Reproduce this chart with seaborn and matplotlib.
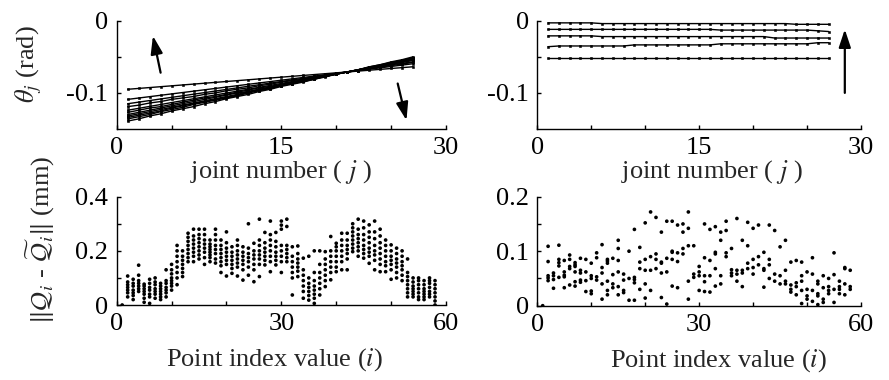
import matplotlib
matplotlib.use("Agg")
import matplotlib.pyplot as plt
import pandas as pd
import seaborn as sns

# ---------------- data ----------------
joints = list(range(1, 28))

# joint angles before calibration (rad), one list per iteration
theta_a1 = [-0.0950, -0.0938, -0.0926, -0.0914, -0.0902, -0.0890, -0.0878, -0.0866, -0.0854, -0.0842, -0.0830, -0.0818, -0.0806, -0.0794, -0.0782, -0.0770, -0.0758, -0.0746, -0.0734, -0.0722, -0.0710, -0.0698, -0.0686, -0.0674, -0.0662, -0.0650, -0.0638]
theta_a2 = [-0.1090, -0.1071, -0.1052, -0.1033, -0.1014, -0.0995, -0.0976, -0.0957, -0.0938, -0.0919, -0.0900, -0.0881, -0.0862, -0.0843, -0.0824, -0.0805, -0.0786, -0.0767, -0.0748, -0.0729, -0.0710, -0.0691, -0.0672, -0.0653, -0.0634, -0.0615, -0.0596]
theta_a3 = [-0.1150, -0.1128, -0.1106, -0.1084, -0.1062, -0.1040, -0.1018, -0.0996, -0.0974, -0.0952, -0.0930, -0.0908, -0.0886, -0.0864, -0.0842, -0.0820, -0.0798, -0.0776, -0.0754, -0.0732, -0.0710, -0.0688, -0.0666, -0.0644, -0.0622, -0.0600, -0.0578]
theta_a4 = [-0.119, -0.117, -0.114, -0.112, -0.109, -0.107, -0.105, -0.102, -0.100, -0.097, -0.095, -0.093, -0.090, -0.088, -0.085, -0.083, -0.081, -0.078, -0.076, -0.073, -0.071, -0.069, -0.066, -0.064, -0.061, -0.059, -0.057]
theta_a5 = [-0.1240, -0.1214, -0.1187, -0.1161, -0.1134, -0.1108, -0.1081, -0.1055, -0.1028, -0.1002, -0.0975, -0.0949, -0.0922, -0.0896, -0.0869, -0.0843, -0.0816, -0.0790, -0.0763, -0.0737, -0.0710, -0.0684, -0.0657, -0.0631, -0.0604, -0.0578, -0.0551]
theta_a6 = [-0.127, -0.124, -0.121, -0.119, -0.116, -0.113, -0.110, -0.107, -0.105, -0.102, -0.099, -0.096, -0.093, -0.091, -0.088, -0.085, -0.082, -0.079, -0.077, -0.074, -0.071, -0.068, -0.065, -0.063, -0.060, -0.057, -0.054]
theta_a7 = [-0.130, -0.127, -0.124, -0.121, -0.118, -0.115, -0.112, -0.109, -0.106, -0.103, -0.100, -0.098, -0.095, -0.092, -0.089, -0.086, -0.083, -0.080, -0.077, -0.074, -0.071, -0.068, -0.065, -0.062, -0.059, -0.056, -0.053]
theta_a8 = [-0.132, -0.129, -0.126, -0.123, -0.120, -0.117, -0.114, -0.111, -0.108, -0.105, -0.102, -0.098, -0.095, -0.092, -0.089, -0.086, -0.083, -0.080, -0.077, -0.074, -0.071, -0.068, -0.065, -0.062, -0.059, -0.055, -0.052]
theta_a9 = [-0.134, -0.131, -0.128, -0.125, -0.121, -0.118, -0.115, -0.112, -0.109, -0.106, -0.103, -0.099, -0.096, -0.093, -0.090, -0.087, -0.084, -0.081, -0.077, -0.074, -0.071, -0.068, -0.065, -0.062, -0.058, -0.055, -0.052]
theta_a10 = [-0.136, -0.133, -0.130, -0.126, -0.123, -0.120, -0.116, -0.113, -0.110, -0.107, -0.104, -0.100, -0.097, -0.094, -0.090, -0.087, -0.084, -0.081, -0.077, -0.074, -0.071, -0.068, -0.064, -0.061, -0.058, -0.055, -0.051]
theta_a11 = [-0.139, -0.136, -0.132, -0.129, -0.125, -0.122, -0.119, -0.115, -0.112, -0.108, -0.105, -0.102, -0.098, -0.095, -0.091, -0.088, -0.085, -0.081, -0.078, -0.074, -0.071, -0.068, -0.064, -0.061, -0.057, -0.054, -0.050]
theta_before = [theta_a1, theta_a2, theta_a3, theta_a4, theta_a5, theta_a6,
                theta_a7, theta_a8, theta_a9, theta_a10, theta_a11]

# joint angles after calibration (rad)
theta_b1 = [-0.003]*5 + [-0.004]*18 + [-0.005]*4
theta_b2 = [-0.012]*16 + [-0.013]*9 + [-0.014, -0.015]
theta_b3 = [-0.021]*5 + [-0.022]*16 + [-0.024]*6
theta_b4 = [-0.036] + [-0.035]*7 + [-0.0335]*8 + [-0.032]*9 + [-0.0305]*2
theta_b5 = [-0.052]*27
theta_after = [theta_b1, theta_b2, theta_b3, theta_b4, theta_b5]

# position error per point index (mm), before calibration
err_before_idx = list(range(1, 59))
err_before_vals = [
    [0.0],
    [0.030, 0.045, 0.055, 0.065, 0.075, 0.085, 0.107],
    [0.020, 0.035, 0.045, 0.055, 0.070, 0.080, 0.095],
    [0.050, 0.060, 0.070, 0.080, 0.090, 0.110, 0.147],
    [0.010, 0.025, 0.040, 0.050, 0.060, 0.070, 0.077],
    [0.006, 0.030, 0.040, 0.055, 0.065, 0.080, 0.095],
    [0.025, 0.040, 0.050, 0.060, 0.075, 0.085, 0.100],
    [0.020, 0.030, 0.040, 0.050, 0.060, 0.070, 0.080],
    [0.030, 0.045, 0.055, 0.065, 0.080, 0.090, 0.130],
    [0.055, 0.070, 0.080, 0.090, 0.100, 0.115, 0.130, 0.150],
    [0.075, 0.100, 0.120, 0.140, 0.160, 0.180, 0.200, 0.220],
    [0.105, 0.120, 0.135, 0.150, 0.165, 0.180, 0.200],
    [0.160, 0.175, 0.190, 0.205, 0.220, 0.235, 0.250, 0.265],
    [0.160, 0.180, 0.195, 0.210, 0.225, 0.240, 0.255, 0.280],
    [0.170, 0.185, 0.200, 0.215, 0.230, 0.245, 0.260, 0.280],
    [0.150, 0.175, 0.195, 0.210, 0.225, 0.240, 0.260, 0.280],
    [0.160, 0.175, 0.185, 0.195, 0.205, 0.215, 0.225, 0.240],
    [0.155, 0.170, 0.190, 0.205, 0.220, 0.240, 0.260, 0.280],
    [0.120, 0.145, 0.160, 0.175, 0.190, 0.205, 0.220, 0.240],
    [0.107, 0.150, 0.165, 0.180, 0.195, 0.210, 0.230, 0.270],
    [0.117, 0.135, 0.150, 0.165, 0.180, 0.195, 0.215],
    [0.107, 0.140, 0.155, 0.170, 0.185, 0.200, 0.220, 0.240],
    [0.092, 0.130, 0.150, 0.165, 0.180, 0.195, 0.215],
    [0.110, 0.140, 0.160, 0.175, 0.190, 0.210, 0.300],
    [0.086, 0.130, 0.150, 0.170, 0.185, 0.200, 0.228],
    [0.105, 0.150, 0.170, 0.185, 0.200, 0.220, 0.240, 0.317],
    [0.148, 0.165, 0.180, 0.195, 0.210, 0.230, 0.268],
    [0.123, 0.160, 0.180, 0.200, 0.220, 0.240, 0.260, 0.310],
    [0.148, 0.165, 0.180, 0.195, 0.215, 0.235, 0.268],
    [0.120, 0.160, 0.180, 0.200, 0.220, 0.280, 0.295, 0.310],
    [0.160, 0.175, 0.190, 0.205, 0.220, 0.290, 0.317],
    [0.037, 0.100, 0.120, 0.140, 0.160, 0.180, 0.215],
    [0.105, 0.125, 0.140, 0.155, 0.170, 0.190, 0.218],
    [0.025, 0.050, 0.070, 0.090, 0.110, 0.130, 0.173],
    [0.018, 0.035, 0.050, 0.065, 0.080, 0.100, 0.180],
    [0.006, 0.025, 0.040, 0.055, 0.070, 0.090, 0.120, 0.200],
    [0.037, 0.060, 0.080, 0.100, 0.120, 0.150, 0.200],
    [0.068, 0.090, 0.110, 0.130, 0.150, 0.170, 0.197],
    [0.093, 0.120, 0.140, 0.160, 0.180, 0.200, 0.253],
    [0.123, 0.140, 0.160, 0.180, 0.200, 0.215, 0.228],
    [0.130, 0.160, 0.180, 0.200, 0.220, 0.240, 0.265],
    [0.130, 0.170, 0.190, 0.205, 0.220, 0.240, 0.265],
    [0.197, 0.210, 0.225, 0.240, 0.255, 0.270, 0.285, 0.300],
    [0.180, 0.200, 0.215, 0.230, 0.245, 0.260, 0.280, 0.317],
    [0.173, 0.190, 0.205, 0.220, 0.240, 0.260, 0.285, 0.310],
    [0.154, 0.180, 0.195, 0.210, 0.230, 0.250, 0.270, 0.296],
    [0.130, 0.165, 0.185, 0.200, 0.220, 0.245, 0.270, 0.310],
    [0.123, 0.150, 0.170, 0.190, 0.210, 0.230, 0.255, 0.280],
    [0.123, 0.145, 0.160, 0.180, 0.200, 0.220, 0.240],
    [0.095, 0.130, 0.150, 0.165, 0.180, 0.200, 0.222],
    [0.100, 0.120, 0.140, 0.155, 0.170, 0.190, 0.210],
    [0.090, 0.110, 0.130, 0.145, 0.160, 0.180, 0.200],
    [0.030, 0.045, 0.060, 0.075, 0.090, 0.105, 0.120, 0.170],
    [0.030, 0.040, 0.050, 0.060, 0.070, 0.085, 0.100],
    [0.020, 0.030, 0.045, 0.060, 0.075, 0.090, 0.100],
    [0.020, 0.030, 0.040, 0.050, 0.060, 0.075, 0.090],
    [0.030, 0.040, 0.050, 0.065, 0.080, 0.090, 0.100],
    [0.000, 0.015, 0.030, 0.045, 0.060, 0.075, 0.090],
]

# position error per point index (mm), after calibration
err_after_idx = list(range(1, 59))
err_after_vals = [
    [0.0],
    [0.109, 0.081, 0.055, 0.051, 0.046],
    [0.060, 0.055, 0.048, 0.032],
    [0.111, 0.085, 0.079, 0.073, 0.052],
    [0.083, 0.062, 0.056, 0.053, 0.033],
    [0.093, 0.085, 0.072, 0.068, 0.038],
    [0.079, 0.075, 0.072, 0.062, 0.044, 0.036],
    [0.087, 0.065, 0.060, 0.047, 0.043],
    [0.085, 0.062, 0.046, 0.026],
    [0.078, 0.055, 0.050, 0.027, 0.022],
    [0.097, 0.088, 0.053, 0.047],
    [0.112, 0.070, 0.060, 0.040, 0.012],
    [0.085, 0.082, 0.078, 0.045, 0.028, 0.020],
    [0.087, 0.057, 0.040, 0.033],
    [0.120, 0.105, 0.083, 0.062, 0.035, 0.020],
    [0.058, 0.047, 0.028, 0.024],
    [0.100, 0.050, 0.010],
    [0.140, 0.052, 0.048, 0.042, 0.010],
    [0.107, 0.080, 0.068, 0.030],
    [0.152, 0.085, 0.065, 0.040, 0.014],
    [0.172, 0.090, 0.065, 0.028],
    [0.162, 0.095, 0.085, 0.068],
    [0.135, 0.080, 0.078, 0.060, 0.015],
    [0.155, 0.087, 0.062, 0.003],
    [0.155, 0.100, 0.098, 0.085, 0.036],
    [0.148, 0.097, 0.081, 0.033],
    [0.150, 0.135, 0.105, 0.095],
    [0.172, 0.142, 0.110, 0.045, 0.012],
    [0.110, 0.058, 0.052],
    [0.072, 0.062, 0.055, 0.028],
    [0.150, 0.088, 0.055, 0.044, 0.026],
    [0.140, 0.083, 0.055, 0.025],
    [0.145, 0.098, 0.095, 0.068, 0.036],
    [0.135, 0.120, 0.055, 0.040],
    [0.155, 0.138, 0.097, 0.090],
    [0.105, 0.066, 0.060, 0.055],
    [0.160, 0.065, 0.058, 0.045],
    [0.120, 0.065, 0.060, 0.035],
    [0.153, 0.110, 0.078, 0.068],
    [0.142, 0.085, 0.070, 0.058],
    [0.148, 0.090, 0.075],
    [0.098, 0.068, 0.065, 0.034],
    [0.148, 0.085, 0.075, 0.050],
    [0.138, 0.058, 0.045],
    [0.108, 0.055, 0.040],
    [0.120, 0.065, 0.045, 0.040],
    [0.080, 0.038, 0.030, 0.025],
    [0.083, 0.042, 0.035, 0.020],
    [0.080, 0.055, 0.045, 0.028, 0.004],
    [0.062, 0.030, 0.018, 0.012],
    [0.088, 0.058, 0.028, 0.008],
    [0.045, 0.040, 0.022, 0.018, 0.002],
    [0.055, 0.033, 0.012, 0.006],
    [0.050, 0.035, 0.028, 0.022],
    [0.097, 0.057, 0.030, 0.006],
    [0.045, 0.035, 0.030, 0.022],
    [0.070, 0.068, 0.040, 0.020],
    [0.065, 0.035, 0.030],
]

# ---------------- tables ----------------
def lines_df(lines):
    rows = []
    for k, vals in enumerate(lines):
        for j, v in zip(joints, vals):
            rows.append({"line": k, "j": j, "theta": v})
    return pd.DataFrame(rows)

def scatter_df(idx, vals):
    rows = []
    for i, col in zip(idx, vals):
        for v in col:
            rows.append({"i": i, "err": v})
    return pd.DataFrame(rows)

df_tb = lines_df(theta_before)
df_ta = lines_df(theta_after)
df_eb = scatter_df(err_before_idx, err_before_vals)
df_ea = scatter_df(err_after_idx, err_after_vals)

# ---------------- style ----------------
sns.set_style("ticks", {"xtick.direction": "in", "ytick.direction": "in",
                        "axes.edgecolor": "black"})
plt.rcParams["font.family"] = ["Liberation Serif", "DejaVu Serif"]
plt.rcParams["mathtext.fontset"] = "stix"
plt.rcParams["axes.unicode_minus"] = False

FS = 19
fig = plt.figure(figsize=(8.89, 3.80), dpi=100)
W, H = 889.0, 380.0

def make_ax(x0, x1, ytop, ybot):
    return fig.add_axes([x0 / W, 1 - ybot / H, (x1 - x0) / W, (ybot - ytop) / H])

ax_tl = make_ax(116.7, 446.0, 20.7, 129.0)
ax_tr = make_ax(537.3, 861.0, 20.7, 129.0)
ax_bl = make_ax(116.7, 446.0, 196.7, 305.0)
ax_br = make_ax(537.3, 861.0, 196.7, 305.7)

line_kw = dict(x="j", y="theta", units="line", estimator=None, color="black",
               marker="s", markersize=2.1, markeredgewidth=0.4,
               markeredgecolor="black", linewidth=1.0, legend=False)
sns.lineplot(data=df_tb, ax=ax_tl, **line_kw)
sns.lineplot(data=df_ta, ax=ax_tr, **line_kw)

sc_kw = dict(x="i", y="err", color="black", s=7, marker="o", edgecolor="none",
             legend=False)
sns.scatterplot(data=df_eb, ax=ax_bl, **sc_kw)
sns.scatterplot(data=df_ea, ax=ax_br, **sc_kw)

def style(ax, xlim, xticks, xlabels, ylim, yticks, ylabels):
    ax.set_xlim(*xlim)
    ax.set_ylim(*ylim)
    ax.set_xticks(xticks)
    ax.set_xticklabels(xlabels)
    ax.set_yticks(yticks)
    ax.set_yticklabels(ylabels)
    for s in ("top", "right"):
        ax.spines[s].set_visible(False)
    for s in ("left", "bottom"):
        ax.spines[s].set_linewidth(1.0)
        ax.spines[s].set_color("black")
    ax.tick_params(direction="in", length=3, width=1.0, labelsize=FS,
                   pad=6, colors="black")
    ax.set_xlabel("")
    ax.set_ylabel("")

for ax in (ax_tl, ax_tr):
    style(ax, (0, 30), [0, 5, 10, 15, 20, 25, 30], ["0", "", "", "15", "", "", "30"],
          (-0.15, 0), [-0.1, -0.05, 0], ["-0.1", "", "0"])
    ax.set_xlabel("joint number ( $j$ )", fontsize=FS)
style(ax_bl, (0, 60), [0, 10, 20, 30, 40, 50, 60], ["0", "", "", "30", "", "", "60"],
      (0, 0.4), [0, 0.1, 0.2, 0.3, 0.4], ["0", "", "0.2", "", "0.4"])
style(ax_br, (0, 60), [0, 10, 20, 30, 40, 50, 60], ["0", "", "", "30", "", "", "60"],
      (0, 0.2), [0, 0.05, 0.1, 0.15, 0.2], ["0", "", "0.1", "", "0.2"])
for ax in (ax_bl, ax_br):
    ax.set_xlabel("Point index value ($i$)", fontsize=FS)

ax_tl.xaxis.set_label_coords(0.5, -0.27)
ax_tr.xaxis.set_label_coords(0.54, -0.27)
ax_bl.xaxis.set_label_coords(0.48, -0.38)
ax_br.xaxis.set_label_coords(0.56, -0.38)

ax_tl.set_ylabel(r"$\theta_j$ (rad)", fontsize=FS)
ax_tl.yaxis.set_label_coords(-0.22, 0.6)
ax_bl.set_ylabel(r"$\Vert\mathcal{Q}_i$ - $\widetilde{\mathcal{Q}}_i\Vert$ (mm)", fontsize=FS)
ax_bl.yaxis.set_label_coords(-0.18, 0.6)

arrow = dict(arrowstyle="-|>,head_length=0.9,head_width=0.3", color="black",
             lw=1.6, mutation_scale=12, shrinkA=0, shrinkB=0)
ax_tl.annotate("", xy=(3.3, -0.021), xytext=(4.0, -0.072), arrowprops=arrow)
ax_tl.annotate("", xy=(26.4, -0.138), xytext=(25.6, -0.087), arrowprops=arrow)
ax_tr.annotate("", xy=(28.5, -0.012), xytext=(28.5, -0.100), arrowprops=arrow)

fig.savefig("out.png", dpi=100)
